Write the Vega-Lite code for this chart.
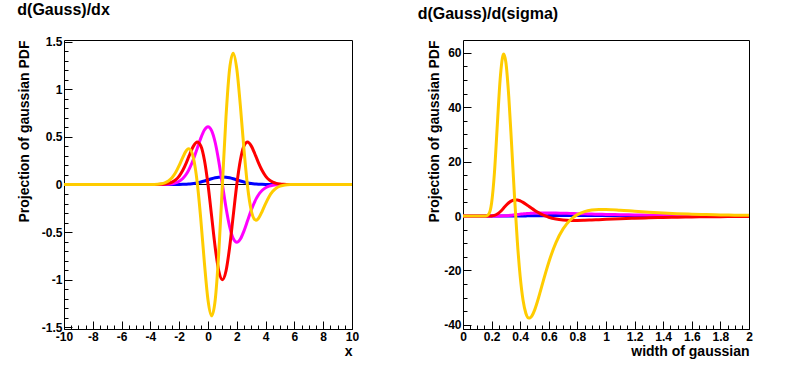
{
  "$schema": "https://vega.github.io/schema/vega-lite/v6.json",
  "background": "white",
  "padding": {"left": 16, "top": 1, "right": 10, "bottom": 6},
  "spacing": 111,
  "bounds": "flush",
  "config": {
    "font": "Liberation Sans",
    "view": {"stroke": "black", "strokeWidth": 1},
    "axis": {"domain": false, "grid": false, "labelFont": "Liberation Sans", "labelFontWeight": "bold", "labelFontSize": 12, "labelColor": "black", "titleFont": "Liberation Sans", "titleFontWeight": "bold", "titleFontSize": 14, "titleColor": "black", "tickColor": "black", "tickWidth": 1, "labelFlush": false, "labelOverlap": false},
    "title": {"font": "Liberation Sans", "fontWeight": "bold", "fontSize": 16, "anchor": "start", "frame": "bounds", "color": "black", "offset": 18},
    "locale": {"number": {"decimal": ".", "thousands": ",", "grouping": [3], "currency": ["$", ""], "minus": "-"}}
  },
  "hconcat": [
    {
      "title": {"text": "d(Gauss)/dx"},
      "width": 288,
      "height": 289,
      "data": {"values": [
        {"x": -10, "g": 0, "d1": 0, "d2": 0, "d3": 0},
        {"x": -4, "g": 0, "d1": 0.00002, "d2": 0.00009, "d3": 0.00041},
        {"x": -3.75, "g": 0, "d1": 0.00006, "d2": 0.00027, "d3": 0.00118},
        {"x": -3.5, "g": 0, "d1": 0.00018, "d2": 0.00077, "d3": 0.00311},
        {"x": -3.25, "g": 0.00001, "d1": 0.00051, "d2": 0.00205, "d3": 0.00768},
        {"x": -3, "g": 0.00003, "d1": 0.00134, "d2": 0.00503, "d3": 0.01742},
        {"x": -2.75, "g": 0.00007, "d1": 0.00332, "d2": 0.01155, "d3": 0.03667},
        {"x": -2.5, "g": 0.00017, "d1": 0.00765, "d2": 0.0246, "d3": 0.0708},
        {"x": -2.25, "g": 0.00041, "d1": 0.01653, "d2": 0.04863, "d3": 0.125},
        {"x": -2, "g": 0.00089, "d1": 0.03333, "d2": 0.08887, "d3": 0.19996},
        {"x": -1.75, "g": 0.00182, "d1": 0.06268, "d2": 0.14959, "d3": 0.28599},
        {"x": -1.5, "g": 0.00351, "d1": 0.10984, "d2": 0.23067, "d3": 0.35699},
        {"x": -1.35, "g": 0.00504, "d1": 0.14855, "d2": 0.28588, "d3": 0.37472},
        {"x": -1.25, "g": 0.00635, "d1": 0.17901, "d2": 0.32321, "d3": 0.36921},
        {"x": -1, "g": 0.0108, "d1": 0.27067, "d2": 0.40601, "d3": 0.27067},
        {"x": -0.75, "g": 0.01726, "d1": 0.37846, "d2": 0.44605, "d3": 0.02365},
        {"x": -0.5, "g": 0.02591, "d1": 0.48698, "d2": 0.40582, "d3": -0.36523},
        {"x": -0.25, "g": 0.03653, "d1": 0.57229, "d2": 0.25753, "d3": -0.82267},
        {"x": 0, "g": 0.0484, "d1": 0.60653, "d2": 0, "d3": -1.21306},
        {"x": 0.25, "g": 0.06024, "d1": 0.56613, "d2": -0.33024, "d3": -1.37994},
        {"x": 0.5, "g": 0.07042, "d1": 0.44125, "d2": -0.66187, "d3": -1.21343},
        {"x": 0.75, "g": 0.07734, "d1": 0.24231, "d2": -0.90866, "d3": -0.71178},
        {"x": 1, "g": 0.0798, "d1": 0, "d2": -1, "d3": 0},
        {"x": 1.25, "g": 0.07734, "d1": -0.24231, "d2": -0.90866, "d3": 0.71178},
        {"x": 1.5, "g": 0.07042, "d1": -0.44125, "d2": -0.66187, "d3": 1.21343},
        {"x": 1.75, "g": 0.06024, "d1": -0.56613, "d2": -0.33024, "d3": 1.37994},
        {"x": 2, "g": 0.0484, "d1": -0.60653, "d2": 0, "d3": 1.21306},
        {"x": 2.25, "g": 0.03653, "d1": -0.57229, "d2": 0.25753, "d3": 0.82267},
        {"x": 2.5, "g": 0.02591, "d1": -0.48698, "d2": 0.40582, "d3": 0.36523},
        {"x": 2.75, "g": 0.01726, "d1": -0.37846, "d2": 0.44605, "d3": -0.02365},
        {"x": 3, "g": 0.0108, "d1": -0.27067, "d2": 0.40601, "d3": -0.27067},
        {"x": 3.25, "g": 0.00635, "d1": -0.17901, "d2": 0.32321, "d3": -0.36921},
        {"x": 3.35, "g": 0.00504, "d1": -0.14855, "d2": 0.28588, "d3": -0.37472},
        {"x": 3.5, "g": 0.00351, "d1": -0.10984, "d2": 0.23067, "d3": -0.35699},
        {"x": 3.75, "g": 0.00182, "d1": -0.06268, "d2": 0.14959, "d3": -0.28599},
        {"x": 4, "g": 0.00089, "d1": -0.03333, "d2": 0.08887, "d3": -0.19996},
        {"x": 4.25, "g": 0.00041, "d1": -0.01653, "d2": 0.04863, "d3": -0.125},
        {"x": 4.5, "g": 0.00017, "d1": -0.00765, "d2": 0.0246, "d3": -0.0708},
        {"x": 4.75, "g": 0.00007, "d1": -0.00332, "d2": 0.01155, "d3": -0.03667},
        {"x": 5, "g": 0.00003, "d1": -0.00134, "d2": 0.00503, "d3": -0.01742},
        {"x": 5.25, "g": 0.00001, "d1": -0.00051, "d2": 0.00205, "d3": -0.00768},
        {"x": 5.5, "g": 0, "d1": -0.00018, "d2": 0.00077, "d3": -0.00311},
        {"x": 5.75, "g": 0, "d1": -0.00006, "d2": 0.00027, "d3": -0.00118},
        {"x": 6, "g": 0, "d1": -0.00002, "d2": 0.00009, "d3": -0.00041},
        {"x": 10, "g": 0, "d1": 0, "d2": 0, "d3": 0}
      ]},
      "resolve": {"axis": {"x": "independent", "y": "independent"}},
      "layer": [
        {
          "data": {"values": [{"z": 0}]},
          "mark": {"type": "rule", "color": "black", "strokeWidth": 1},
          "encoding": {
            "y": {"field": "z", "type": "quantitative", "scale": {"domain": [-1.518, 1.518], "nice": false, "zero": false}, "axis": null}
          }
        },
        {
          "mark": {"type": "line", "color": "#0000ff", "strokeWidth": 3, "interpolate": "monotone"},
          "encoding": {
            "x": {"field": "x", "type": "quantitative", "scale": {"domain": [-10, 10], "nice": false, "zero": false},
                  "axis": {"orient": "bottom", "values": [-10,-9.5,-9,-8.5,-8,-7.5,-7,-6.5,-6,-5.5,-5,-4.5,-4,-3.5,-3,-2.5,-2,-1.5,-1,-0.5,0,0.5,1,1.5,2,2.5,3,3.5,4,4.5,5,5.5,6,6.5,7,7.5,8,8.5,9,9.5,10], "labels": false, "tickSize": -4, "title": null}},
            "y": {"field": "g", "type": "quantitative", "scale": {"domain": [-1.518, 1.518], "nice": false, "zero": false},
                  "axis": {"orient": "left", "values": [-1.5,-1.4,-1.3,-1.2,-1.1,-1,-0.9,-0.8,-0.7,-0.6,-0.5,-0.4,-0.3,-0.2,-0.1,0,0.1,0.2,0.3,0.4,0.5,0.6,0.7,0.8,0.9,1,1.1,1.2,1.3,1.4,1.5], "labels": false, "tickSize": -4, "title": null}}
          }
        },
        {
          "mark": {"type": "line", "color": "#ff00ff", "strokeWidth": 3, "interpolate": "monotone"},
          "encoding": {
            "x": {"field": "x", "type": "quantitative", "scale": {"domain": [-10, 10], "nice": false, "zero": false},
                  "axis": {"orient": "bottom", "values": [-10,-8,-6,-4,-2,0,2,4,6,8,10], "format": "~r", "tickSize": -8, "labelPadding": 10, "title": "x", "titleAnchor": "end", "titlePadding": 2}},
            "y": {"field": "d1", "type": "quantitative", "scale": {"domain": [-1.518, 1.518], "nice": false, "zero": false},
                  "axis": {"orient": "left", "values": [-1.5,-1,-0.5,0,0.5,1,1.5], "format": "~r", "tickSize": -8, "labelPadding": 10, "title": "Projection of gaussian PDF", "titleAnchor": "end", "titlePadding": 10}}
          }
        },
        {
          "mark": {"type": "line", "color": "#ff0000", "strokeWidth": 3, "interpolate": "monotone"},
          "encoding": {
            "x": {"field": "x", "type": "quantitative", "scale": {"domain": [-10, 10], "nice": false, "zero": false}, "axis": null},
            "y": {"field": "d2", "type": "quantitative", "scale": {"domain": [-1.518, 1.518], "nice": false, "zero": false}, "axis": null}
          }
        },
        {
          "mark": {"type": "line", "color": "#ffcc00", "strokeWidth": 3, "interpolate": "monotone"},
          "encoding": {
            "x": {"field": "x", "type": "quantitative", "scale": {"domain": [-10, 10], "nice": false, "zero": false}, "axis": null},
            "y": {"field": "d3", "type": "quantitative", "scale": {"domain": [-1.518, 1.518], "nice": false, "zero": false}, "axis": null}
          }
        }
      ]
    },
    {
      "title": {"text": "d(Gauss)/d(sigma)", "dx": -10},
      "width": 286,
      "height": 289,
      "data": {"values": [
        {"s": 0, "g": 0, "d1": 0, "d2": 0, "d3": 0},
        {"s": 0.1, "g": 0, "d1": 0, "d2": 0, "d3": 0},
        {"s": 0.14, "g": 0, "d1": 0, "d2": 0, "d3": 0.0003},
        {"s": 0.16, "g": 0, "d1": 0, "d2": 0.0002, "d3": 0.0373},
        {"s": 0.18, "g": 0, "d1": 0, "d2": 0.0053, "d3": 0.7218},
        {"s": 0.2, "g": 0, "d1": 0.0005, "d2": 0.0512, "d3": 4.798},
        {"s": 0.22, "g": 0.0001, "d1": 0.0031, "d2": 0.2459, "d3": 16.009},
        {"s": 0.24, "g": 0.0003, "d1": 0.0123, "d2": 0.7352, "d3": 33.526},
        {"s": 0.26, "g": 0.0009, "d1": 0.0349, "d2": 1.5831, "d3": 50.438},
        {"s": 0.28, "g": 0.0024, "d1": 0.0774, "d2": 2.697, "d3": 59.134},
        {"s": 0.285, "g": 0.003, "d1": 0.0916, "d2": 2.994, "d3": 59.53},
        {"s": 0.3, "g": 0.0051, "d1": 0.1432, "d2": 3.8712, "d3": 56.409},
        {"s": 0.32, "g": 0.0094, "d1": 0.2312, "d2": 4.888, "d3": 43.972},
        {"s": 0.34, "g": 0.0155, "d1": 0.3366, "d2": 5.5942, "d3": 26.139},
        {"s": 0.36, "g": 0.0234, "d1": 0.4524, "d2": 5.927, "d3": 7.307},
        {"s": 0.38, "g": 0.0329, "d1": 0.5713, "d2": 5.9012, "d3": -9.369},
        {"s": 0.4, "g": 0.0438, "d1": 0.6865, "d2": 5.5779, "d3": -22.258},
        {"s": 0.42, "g": 0.0558, "d1": 0.793, "d2": 5.0391, "d3": -30.942},
        {"s": 0.44, "g": 0.0685, "d1": 0.8872, "d2": 4.3659, "d3": -35.781},
        {"s": 0.46, "g": 0.0817, "d1": 0.9672, "d2": 3.6288, "d3": -37.477},
        {"s": 0.47, "g": 0.0883, "d1": 1.0015, "d2": 3.2525, "d3": -37.404},
        {"s": 0.48, "g": 0.0949, "d1": 1.0323, "d2": 2.8824, "d3": -36.851},
        {"s": 0.5, "g": 0.108, "d1": 1.0827, "d2": 2.1654, "d3": -34.646},
        {"s": 0.52, "g": 0.1208, "d1": 1.1193, "d2": 1.5029, "d3": -31.488},
        {"s": 0.54, "g": 0.133, "d1": 1.1433, "d2": 0.909, "d3": -27.85},
        {"s": 0.56, "g": 0.1447, "d1": 1.1561, "d2": 0.3897, "d3": -24.076},
        {"s": 0.58, "g": 0.1556, "d1": 1.1593, "d2": -0.0547, "d3": -20.394},
        {"s": 0.6, "g": 0.1658, "d1": 1.1544, "d2": -0.4276, "d3": -16.944},
        {"s": 0.65, "g": 0.188, "d1": 1.1151, "d2": -1.0861, "d3": -9.764},
        {"s": 0.7, "g": 0.2055, "d1": 1.0509, "d2": -1.44, "d3": -4.723},
        {"s": 0.75, "g": 0.2187, "d1": 0.9745, "d2": -1.5881, "d3": -1.454},
        {"s": 0.8, "g": 0.2283, "d1": 0.8942, "d2": -1.6068, "d3": 0.529},
        {"s": 0.85, "g": 0.235, "d1": 0.8151, "d2": -1.5495, "d3": 1.646},
        {"s": 0.9, "g": 0.2391, "d1": 0.7399, "d2": -1.4514, "d3": 2.204},
        {"s": 0.95, "g": 0.2414, "d1": 0.6702, "d2": -1.3348, "d3": 2.418},
        {"s": 1, "g": 0.242, "d1": 0.6065, "d2": -1.2131, "d3": 2.426},
        {"s": 1.1, "g": 0.24, "d1": 0.497, "d2": -0.9821, "d3": 2.154},
        {"s": 1.2, "g": 0.235, "d1": 0.4089, "d2": -0.7857, "d3": 1.77},
        {"s": 1.3, "g": 0.2283, "d1": 0.3386, "d2": -0.6273, "d3": 1.407},
        {"s": 1.4, "g": 0.2208, "d1": 0.2824, "d2": -0.5022, "d3": 1.105},
        {"s": 1.5, "g": 0.213, "d1": 0.2373, "d2": -0.4042, "d3": 0.864},
        {"s": 1.6, "g": 0.2051, "d1": 0.2008, "d2": -0.3275, "d3": 0.678},
        {"s": 1.7, "g": 0.1974, "d1": 0.1712, "d2": -0.2673, "d3": 0.534},
        {"s": 1.8, "g": 0.19, "d1": 0.147, "d2": -0.2197, "d3": 0.423},
        {"s": 1.9, "g": 0.1828, "d1": 0.1269, "d2": -0.1819, "d3": 0.337},
        {"s": 2, "g": 0.1761, "d1": 0.1103, "d2": -0.1517, "d3": 0.271}
      ]},
      "resolve": {"axis": {"x": "independent", "y": "independent"}},
      "layer": [
        {
          "data": {"values": [{"z": 0}]},
          "mark": {"type": "rule", "color": "black", "strokeWidth": 1},
          "encoding": {
            "y": {"field": "z", "type": "quantitative", "scale": {"domain": [-41.5, 64.7], "nice": false, "zero": false}, "axis": null}
          }
        },
        {
          "mark": {"type": "line", "color": "#0000ff", "strokeWidth": 3, "interpolate": "monotone"},
          "encoding": {
            "x": {"field": "s", "type": "quantitative", "scale": {"domain": [0, 2], "nice": false, "zero": false},
                  "axis": {"orient": "bottom", "values": [0,0.05,0.1,0.15,0.2,0.25,0.3,0.35,0.4,0.45,0.5,0.55,0.6,0.65,0.7,0.75,0.8,0.85,0.9,0.95,1,1.05,1.1,1.15,1.2,1.25,1.3,1.35,1.4,1.45,1.5,1.55,1.6,1.65,1.7,1.75,1.8,1.85,1.9,1.95,2], "labels": false, "tickSize": -4, "title": null}},
            "y": {"field": "g", "type": "quantitative", "scale": {"domain": [-41.5, 64.7], "nice": false, "zero": false},
                  "axis": {"orient": "left", "values": [-40,-35,-30,-25,-20,-15,-10,-5,0,5,10,15,20,25,30,35,40,45,50,55,60], "labels": false, "tickSize": -4, "title": null}}
          }
        },
        {
          "mark": {"type": "line", "color": "#ff00ff", "strokeWidth": 3, "interpolate": "monotone"},
          "encoding": {
            "x": {"field": "s", "type": "quantitative", "scale": {"domain": [0, 2], "nice": false, "zero": false},
                  "axis": {"orient": "bottom", "values": [0,0.2,0.4,0.6,0.8,1,1.2,1.4,1.6,1.8,2], "format": "~r", "tickSize": -8, "labelPadding": 10, "title": "width of gaussian", "titleAnchor": "end", "titlePadding": 2}},
            "y": {"field": "d1", "type": "quantitative", "scale": {"domain": [-41.5, 64.7], "nice": false, "zero": false},
                  "axis": {"orient": "left", "values": [-40,-20,0,20,40,60], "format": "~r", "tickSize": -8, "labelPadding": 10, "title": "Projection of gaussian PDF", "titleAnchor": "end", "titlePadding": 2}}
          }
        },
        {
          "mark": {"type": "line", "color": "#ff0000", "strokeWidth": 3, "interpolate": "monotone"},
          "encoding": {
            "x": {"field": "s", "type": "quantitative", "scale": {"domain": [0, 2], "nice": false, "zero": false}, "axis": null},
            "y": {"field": "d2", "type": "quantitative", "scale": {"domain": [-41.5, 64.7], "nice": false, "zero": false}, "axis": null}
          }
        },
        {
          "mark": {"type": "line", "color": "#ffcc00", "strokeWidth": 3, "interpolate": "monotone"},
          "encoding": {
            "x": {"field": "s", "type": "quantitative", "scale": {"domain": [0, 2], "nice": false, "zero": false}, "axis": null},
            "y": {"field": "d3", "type": "quantitative", "scale": {"domain": [-41.5, 64.7], "nice": false, "zero": false}, "axis": null}
          }
        }
      ]
    }
  ]
}
